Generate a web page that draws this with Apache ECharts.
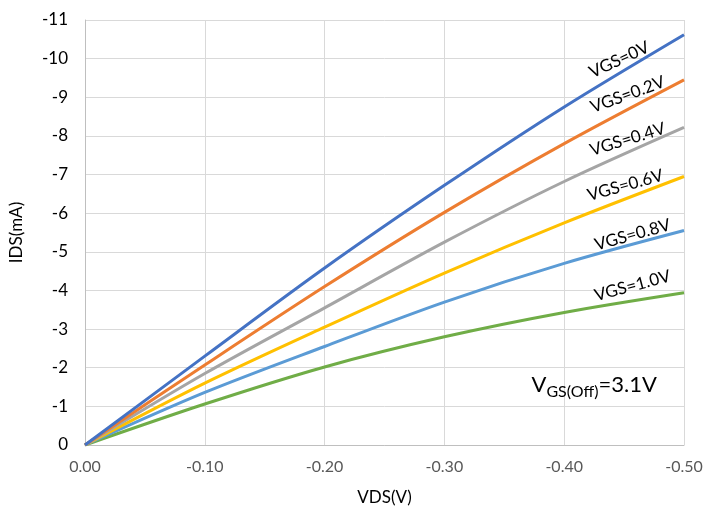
<!DOCTYPE html>
<html>
<head>
<meta charset="utf-8">
<script src="https://cdn.jsdelivr.net/npm/echarts@6/dist/echarts.min.js"></script>
<style>html,body{margin:0;padding:0;background:#fff}#c{width:706px;height:511px}</style>
</head>
<body>
<div id="c"></div>
<script>
const vds = [0, -0.1, -0.2, -0.3, -0.4, -0.5];
const seriesNames = ['VGS=0V', 'VGS=0.2V', 'VGS=0.4V', 'VGS=0.6V', 'VGS=0.8V', 'VGS=1.0V'];
const ids_vgs00 = [0, -2.30, -4.58, -6.72, -8.75, -10.62];
const ids_vgs02 = [0, -2.07, -4.10, -6.02, -7.80, -9.45];
const ids_vgs04 = [0, -1.85, -3.55, -5.25, -6.82, -8.22];
const ids_vgs06 = [0, -1.60, -3.05, -4.45, -5.75, -6.95];
const ids_vgs08 = [0, -1.36, -2.55, -3.70, -4.70, -5.55];
const ids_vgs10 = [0, -1.06, -2.02, -2.80, -3.43, -3.94];
const xTicks = [0, -0.1, -0.2, -0.3, -0.4, -0.5];
const yTicks = [0, -1, -2, -3, -4, -5, -6, -7, -8, -9, -10, -11];

const allSeries = [ids_vgs00, ids_vgs02, ids_vgs04, ids_vgs06, ids_vgs08, ids_vgs10];
const colors = ['#4472C4', '#ED7D31', '#A5A5A5', '#FFC000', '#5B9BD5', '#70AD47'];
const FONT = 'Lato';

// label placement (data coords) and rotation (deg)
const labelPlace = [
  [-0.446, -9.97, 25],
  [-0.453, -9.07, 20],
  [-0.453, -7.91, 17],
  [-0.451, -6.72, 15.5],
  [-0.457, -5.44, 15.5],
  [-0.457, -4.12, 15]
];

const chart = echarts.init(document.getElementById('c'), null, {renderer: 'canvas'});
const option = {
  animation: false,
  backgroundColor: '#fff',
  grid: {left: 80, right: 22, top: 20, bottom: 64, containLabel: false},
  xAxis: {
    type: 'value', min: -0.5, max: 0, interval: 0.1, inverse: true,
    name: 'VDS(V)', nameLocation: 'middle', nameGap: 44,
    nameTextStyle: {fontFamily: FONT, fontSize: 17, color: '#000'},
    axisLine: {show: true, onZero: false, lineStyle: {color: '#bfbfbf', width: 1}},
    axisTick: {show: false},
    axisLabel: {fontFamily: FONT, fontSize: 16, color: '#595959', margin: 14,
      formatter: v => (Math.abs(v) < 1e-9 ? '0.00' : v.toFixed(2))},
    splitLine: {show: true, lineStyle: {color: '#d9d9d9', width: 1}}
  },
  yAxis: {
    type: 'value', min: -11, max: 0, interval: 1, inverse: true,
    name: 'IDS(mA)', nameLocation: 'middle', nameGap: 60,
    nameTextStyle: {fontFamily: FONT, fontSize: 17, color: '#000'},
    axisLine: {show: true, onZero: false, lineStyle: {color: '#bfbfbf', width: 1}},
    axisTick: {show: false},
    axisLabel: {fontFamily: FONT, fontSize: 17, color: '#000', margin: 17,
      formatter: v => (Math.abs(v) < 1e-9 ? '0' : String(Math.round(v)))},
    splitLine: {show: true, lineStyle: {color: '#d9d9d9', width: 1}}
  },
  series: allSeries.map((arr, i) => ({
    name: seriesNames[i],
    type: 'line',
    data: vds.map((x, j) => [x, arr[j]]),
    showSymbol: false,
    smooth: 0.3,
    lineStyle: {color: colors[i], width: 3},
    itemStyle: {color: colors[i]},
    z: 10 - i
  }))
};
chart.setOption(option);

const graphics = seriesNames.map((name, i) => {
  const p = chart.convertToPixel({gridIndex: 0}, [labelPlace[i][0], labelPlace[i][1]]);
  return {
    type: 'text', x: p[0], y: p[1], rotation: labelPlace[i][2] * Math.PI / 180,
    style: {text: name, fill: '#000', font: '17px ' + FONT, align: 'center', verticalAlign: 'middle'}
  };
});
const ap = chart.convertToPixel({gridIndex: 0}, [-0.425, -1.55]);
graphics.push({
  type: 'text', x: ap[0], y: ap[1],
  style: {
    text: '{a|V}{b|GS(Off)}{a|=3.1V}',
    align: 'center', verticalAlign: 'middle',
    rich: {
      a: {fontFamily: FONT, fontSize: 22, fill: '#000', lineHeight: 30, verticalAlign: 'middle'},
      b: {fontFamily: FONT, fontSize: 16, fill: '#000', lineHeight: 30, verticalAlign: 'bottom', padding: [12, 0, 0, 0]}
    }
  }
});
chart.setOption({graphic: graphics});
</script>
</body>
</html>
